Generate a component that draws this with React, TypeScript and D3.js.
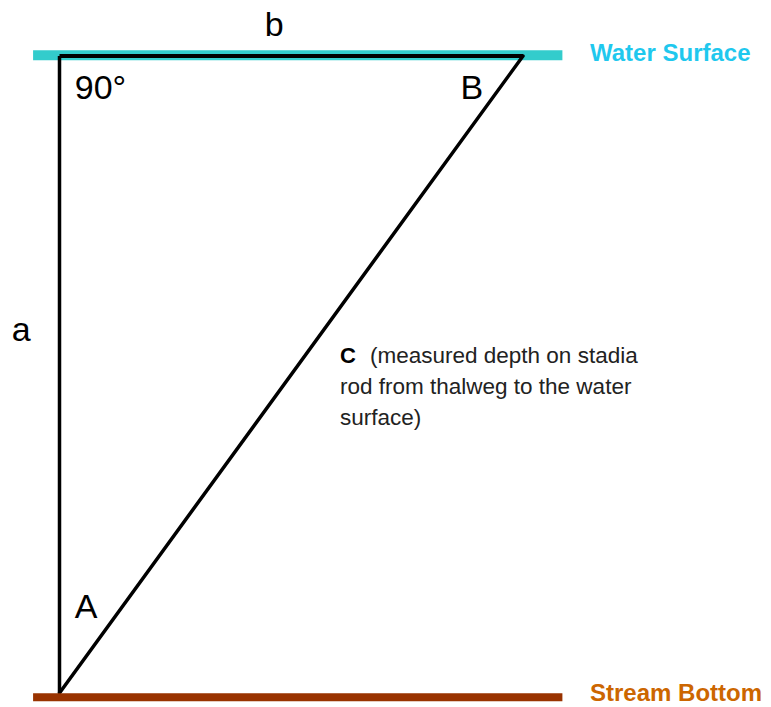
import React from 'react';
import * as d3 from 'd3';

// diagram units: x along the water surface, y is depth below surface (0..1)
const triangle = [
    { name: 'right', x: 0, y: 0 },
    { name: 'B', x: 1, y: 0 },
    { name: 'A', x: 0, y: 1 },
];
const levels = [
    { name: 'Water Surface', y: -0.001, x0: -0.057, x1: 1.085, stroke: '#33CCCC', width: 10, text: '#1FC8EE', dy: 6 },
    { name: 'Stream Bottom', y: 1.0065, x0: -0.057, x1: 1.085, stroke: '#993300', width: 8, text: '#CC6600', dy: 4 },
];
const sideLabels = [
    { text: 'b', x: 0.443, y: -0.032 },
    { text: 'a', x: -0.103, y: 0.447 },
    { text: '90°', x: 0.033, y: 0.068 },
    { text: 'B', x: 0.865, y: 0.068 },
    { text: 'A', x: 0.033, y: 0.882 },
];
const noteLines = [
    '(measured depth on stadia',
    'rod from thalweg to the water',
    'surface)',
];

const width = 771;
const height = 707;

export default function App() {
    const x = d3.scaleLinear().domain([0, 1]).range([59.5, 523]);
    const y = d3.scaleLinear().domain([0, 1]).range([56, 693]);

    const line = d3
        .line<{ x: number; y: number }>()
        .x((d) => x(d.x))
        .y((d) => y(d.y));

    const font = 'Arial, "Liberation Sans", sans-serif';

    return (
        <svg width={width} height={height} style={{ position: 'absolute', left: 0, top: 0 }}>
            <rect width={width} height={height} fill="#fff" />
            <line x1={x(levels[0].x0)} x2={x(levels[0].x1)} y1={y(levels[0].y)} y2={y(levels[0].y)}
                stroke={levels[0].stroke} strokeWidth={levels[0].width} />
            {/* triangle sides */}
            <path d={line([triangle[0], triangle[1]]) ?? ''} stroke="#000" strokeWidth={4} fill="none" />
            <path d={line([triangle[0], triangle[2]]) ?? ''} stroke="#000" strokeWidth={3.5} fill="none" />
            <path d={line([triangle[1], triangle[2]]) ?? ''} stroke="#000" strokeWidth={3.5} fill="none"
                strokeLinecap="round" />
            <line x1={x(levels[1].x0)} x2={x(levels[1].x1)} y1={y(levels[1].y)} y2={y(levels[1].y)}
                stroke={levels[1].stroke} strokeWidth={levels[1].width} />

            {levels.map((l) => (
                <text key={l.name} x={590} y={y(l.y) + l.dy} fill={l.text} fontFamily={font}
                    fontWeight="bold" fontSize={24}>
                    {l.name}
                </text>
            ))}

            {sideLabels.map((d) => (
                <text key={d.text} x={x(d.x)} y={y(d.y)} fontFamily={font} fontSize={34} fill="#000">
                    {d.text}
                </text>
            ))}

            <text x={340} y={363} fontFamily={font} fontSize={22} fontWeight="bold">C</text>
            {noteLines.map((t, i) => (
                <text key={i} x={i === 0 ? 370 : 340} y={363 + i * 31} fontFamily={font} fontSize={22.5}
                    fill="#222">
                    {t}
                </text>
            ))}
        </svg>
    );
}
